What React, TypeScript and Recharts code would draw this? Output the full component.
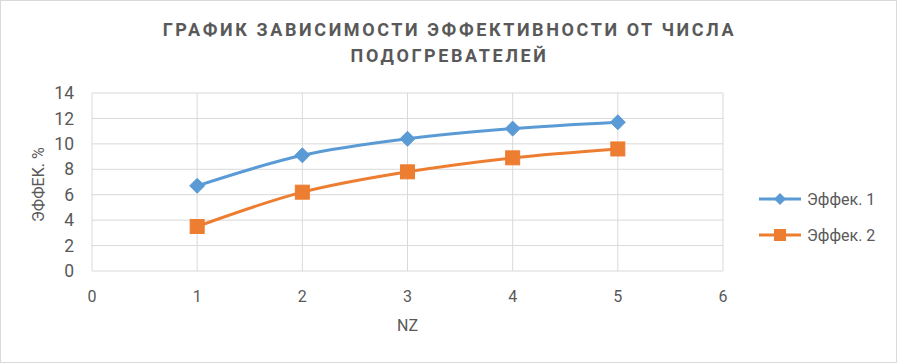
import React from "react";
import { LineChart, Line, XAxis, YAxis, CartesianGrid } from "recharts";

const nzValues = [1, 2, 3, 4, 5];
const eff1 = [6.7, 9.1, 10.4, 11.2, 11.7];
const eff2 = [3.5, 6.2, 7.8, 8.9, 9.6];
const xTicks = [0, 1, 2, 3, 4, 5, 6];
const yTicks = [0, 2, 4, 6, 8, 10, 12, 14];
const seriesNames = ["Эффек. 1", "Эффек. 2"];
const titleLines = ["ГРАФИК ЗАВИСИМОСТИ ЭФФЕКТИВНОСТИ ОТ ЧИСЛА", "ПОДОГРЕВАТЕЛЕЙ"];

const data = nzValues.map((nz, i) => ({ nz, e1: eff1[i], e2: eff2[i] }));

const BLUE = "#5B9BD5";
const ORANGE = "#ED7D31";
const TEXT = "#595959";
const GRID = "#D9D9D9";
const FONT = "Roboto, 'Liberation Sans', sans-serif";

const Diamond = (props: any) => {
  const { cx, cy } = props;
  if (cx == null || cy == null) return null;
  const r = 7.5;
  return (
    <path
      d={`M${cx},${cy - r} L${cx + r},${cy} L${cx},${cy + r} L${cx - r},${cy} Z`}
      fill={BLUE}
      stroke={BLUE}
      strokeWidth={1}
    />
  );
};

const Square = (props: any) => {
  const { cx, cy } = props;
  if (cx == null || cy == null) return null;
  const s = 7;
  return <rect x={cx - s} y={cy - s} width={2 * s} height={2 * s} fill={ORANGE} stroke={ORANGE} strokeWidth={1} />;
};

const LegendBox = () => (
  <div
    style={{
      position: "absolute",
      left: 758,
      top: 180,
      fontFamily: FONT,
      fontSize: 16,
      color: TEXT,
    }}
  >
    {seriesNames.map((name, i) => (
      <div key={name} style={{ display: "flex", alignItems: "center", height: 36 }}>
        <svg width={44} height={16} style={{ marginRight: 4 }}>
          <line x1={0} y1={8} x2={42} y2={8} stroke={i === 0 ? BLUE : ORANGE} strokeWidth={3} />
          {i === 0 ? (
            <path d="M21,2 L27,8 L21,14 L15,8 Z" fill={BLUE} />
          ) : (
            <rect x={15} y={2} width={12} height={12} fill={ORANGE} />
          )}
        </svg>
        <span>{name}</span>
      </div>
    ))}
  </div>
);

export default function App() {
  return (
    <div
      style={{
        position: "absolute",
        left: 0,
        top: 0,
        width: 897,
        height: 363,
        background: "#fff",
        boxSizing: "border-box",
        border: `1px solid ${GRID}`,
        overflow: "hidden",
      }}
    >
      <div
        style={{
          position: "absolute",
          left: 0,
          top: 16,
          width: 897,
          textAlign: "center",
          fontFamily: FONT,
          fontWeight: 700,
          fontSize: 18,
          letterSpacing: 2.6,
          color: TEXT,
          lineHeight: "26px",
        }}
      >
        {titleLines.map((t) => (
          <div key={t}>{t}</div>
        ))}
      </div>
      <div style={{ position: "absolute", left: -1, top: -1 }}>
        <LineChart width={897} height={363} data={data} margin={{ top: 93, right: 174, bottom: 28, left: 0 }}>
          <CartesianGrid stroke={GRID} strokeWidth={1} />
          <XAxis
            dataKey="nz"
            type="number"
            domain={[0, 6]}
            ticks={xTicks}
            interval={0}
            axisLine={false}
            tickLine={false}
            height={64}
            tick={{ fill: TEXT, fontSize: 16, fontFamily: FONT }}
            tickMargin={14}
            label={{ value: "NZ", position: "insideBottom", offset: 4, fill: TEXT, fontSize: 16, fontFamily: FONT }}
          />
          <YAxis
            type="number"
            domain={[0, 14]}
            ticks={yTicks}
            interval={0}
            axisLine={false}
            tickLine={false}
            width={92}
            tick={{ fill: TEXT, fontSize: 17.5, fontFamily: FONT }}
            tickMargin={12}
            label={{
              value: "ЭФФЕК. %",
              angle: -90,
              position: "insideLeft",
              offset: 38,
              dy: 40,
              fill: TEXT,
              fontSize: 16,
              fontFamily: FONT,
            }}
          />
          <Line
            type="monotone"
            dataKey="e1"
            name={seriesNames[0]}
            stroke={BLUE}
            strokeWidth={3}
            dot={<Diamond />}
            activeDot={false}
            isAnimationActive={false}
          />
          <Line
            type="monotone"
            dataKey="e2"
            name={seriesNames[1]}
            stroke={ORANGE}
            strokeWidth={3}
            dot={<Square />}
            activeDot={false}
            isAnimationActive={false}
          />
        </LineChart>
      </div>
      <LegendBox />
    </div>
  );
}
